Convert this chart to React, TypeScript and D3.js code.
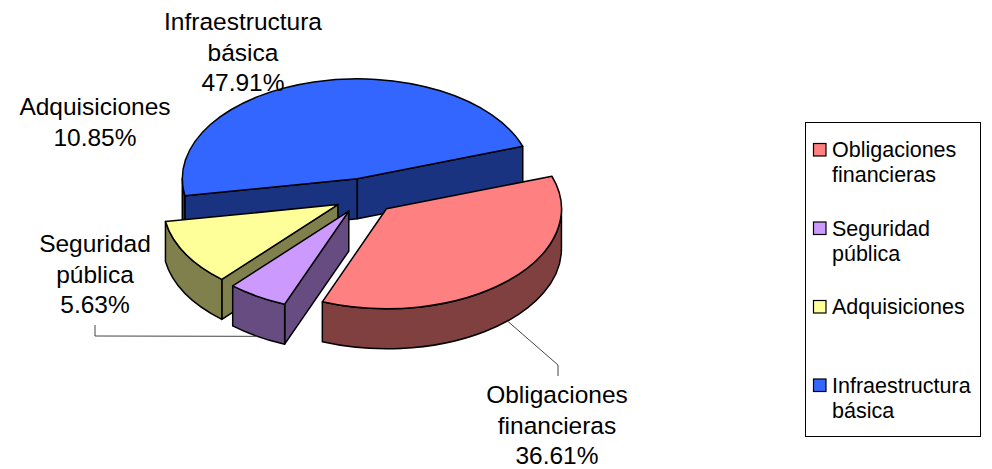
import React from "react";
import * as d3 from "d3";

// chart data
const categories = ["Obligaciones financieras", "Seguridad pública", "Adquisiciones", "Infraestructura básica"];
const values = [36.61, 5.63, 10.85, 47.91];
const topColors = ["#FF8080", "#CC99FF", "#FFFF99", "#3366FF"];
const sideColors = ["#804040", "#664C80", "#80804C", "#1A3380"];

// where each data label sits (centre x, first baseline) and its leader line, if any
const labelLayout = [
  { x: 557, y: 403, leader: [[558, 365], [558, 376]] },
  { x: 95, y: 252, leader: [[95, 336], [95, 325]] },
  { x: 95, y: 115, leader: null },
  { x: 243, y: 30, leader: null },
];

const W = 992, H = 469;
const cx = 365, cy = 196, rx = 175, ry = 100, depth = 40, explode = 31;
const firstAngle = (71 * Math.PI) / 180;
const font = "'Liberation Sans', Arial, sans-serif";

export default function App() {
  const fmt = d3.format(".2f");
  const pie = d3.pie<number>().sort(null).value(d => d)
    .startAngle(firstAngle).endAngle(firstAngle + 2 * Math.PI);
  const arcs = pie(values);

  const slices = arcs.map((a, i) => {
    const mid = (a.startAngle + a.endAngle) / 2;
    const ax = cx + explode * Math.sin(mid);
    const ay = cy - explode * Math.cos(mid) * (ry / rx);
    const pt = (t: number, z = 0) => [ax + rx * Math.sin(t), ay - ry * Math.cos(t) + z];
    const s = a.startAngle, e = a.endAngle;
    const p = (q: number[]) => q[0].toFixed(2) + "," + q[1].toFixed(2);

    const large = e - s > Math.PI ? 1 : 0;
    const top = `M${p([ax, ay])}L${p(pt(s))}A${rx},${ry} 0 ${large} 1 ${p(pt(e))}Z`;

    const faces: string[] = [];
    const radial = (t: number) =>
      `M${p([ax, ay])}L${p(pt(t))}L${p(pt(t, depth))}L${p([ax, ay + depth])}Z`;
    if (Math.sin(s) < 0) faces.push(radial(s));
    if (Math.sin(e) > 0) faces.push(radial(e));
    // outer wall: only the part facing the viewer
    for (let k = -1; k <= 1; k++) {
      const lo = Math.max(s, Math.PI / 2 + 2 * Math.PI * k);
      const hi = Math.min(e, (3 * Math.PI) / 2 + 2 * Math.PI * k);
      if (hi > lo) {
        faces.push(`M${p(pt(lo))}A${rx},${ry} 0 0 1 ${p(pt(hi))}L${p(pt(hi, depth))}A${rx},${ry} 0 0 0 ${p(pt(lo, depth))}Z`);
      }
    }
    return { i, mid, top, faces, anchor: pt(mid, depth) };
  });

  const drawOrder = [...slices].sort((a, b) => -Math.cos(a.mid) + Math.cos(b.mid));

  const legendBand = d3.scaleBand<string>().domain(categories).range([122, 436]);
  const line = d3.line();

  return (
    <div style={{ position: "absolute", left: 0, top: 0 }}>
      <svg width={W} height={H} style={{ display: "block", background: "#fff" }} fontFamily={font}>
        {drawOrder.map(sl => (
          <g key={sl.i} stroke="#000" strokeWidth={1.5} strokeLinejoin="round">
            {sl.faces.map((f, j) => <path key={j} d={f} fill={sideColors[sl.i]} />)}
            <path d={sl.top} fill={topColors[sl.i]} />
          </g>
        ))}

        {labelLayout.map((lb, i) => {
          const lines = [...categories[i].split(" "), fmt(values[i]) + "%"];
          return (
            <g key={i}>
              {lb.leader && (
                <path d={line([slices[i].anchor as [number, number], ...(lb.leader as [number, number][])]) || ""}
                  fill="none" stroke="#444" strokeWidth={1} />
              )}
              <text x={lb.x} y={lb.y} fontSize={24.5} textAnchor="middle" fill="#000">
                {lines.map((t, j) => <tspan key={j} x={lb.x} dy={j === 0 ? 0 : 30.6}>{t}</tspan>)}
              </text>
            </g>
          );
        })}

        <rect x={805.5} y={122.5} width={175} height={314} fill="#fff" stroke="#000" strokeWidth={1} />
        {categories.map((c, i) => {
          const y0 = (legendBand(c) as number) + 35;
          return (
            <g key={c}>
              <rect x={813.5} y={y0 - 13.5} width={12.5} height={12.5} fill={topColors[i]} stroke="#000" strokeWidth={1.2} />
              <text x={832} y={y0} fontSize={21.5} fill="#000">
                {c.split(" ").map((t, j) => <tspan key={j} x={832} dy={j === 0 ? 0 : 25}>{t}</tspan>)}
              </text>
            </g>
          );
        })}
      </svg>
    </div>
  );
}
